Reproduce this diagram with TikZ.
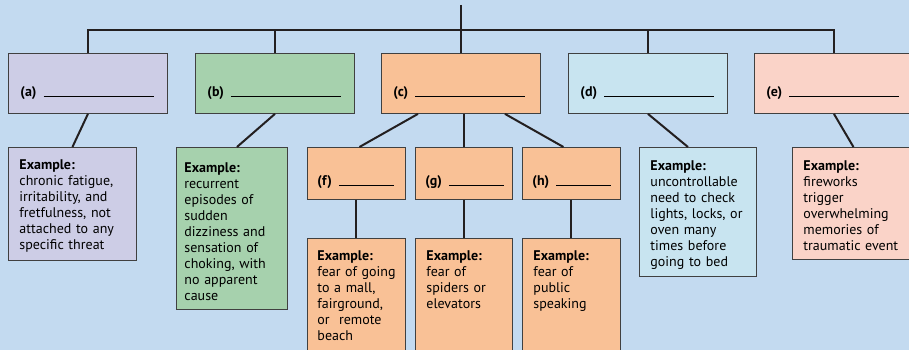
\documentclass[tikz,border=0pt]{standalone}
\usepackage{fontspec}
\setmainfont{PT Sans}
\usepackage{xcolor}
\usepackage{tikz}
\definecolor{bgblue}{HTML}{C3DAF0}
\definecolor{lavender}{HTML}{CDCDE6}
\definecolor{sage}{HTML}{A6D1AD}
\definecolor{peach}{HTML}{F9C196}
\definecolor{iceblue}{HTML}{C8E4F0}
\definecolor{blush}{HTML}{FAD3C8}
\definecolor{edgegray}{HTML}{404040}
\definecolor{linkblack}{HTML}{231F20}
\newcommand{\fillin}[2]{\textbf{#1}\nobreak\hspace{7pt}\nobreak\rule{#2}{0.9pt}}

\begin{document}
\begin{tikzpicture}[
  x=1pt, y=-1pt,
  box/.style={draw=edgegray, line width=0.9pt, anchor=north west, align=left,
    inner ysep=0pt, font=\fontsize{14}{16}\selectfont},
  catbox/.style={box, text width=135pt, inner xsep=12pt, text height=43pt, text depth=17pt},
  subbox/.style={box, text width=78pt, inner xsep=10pt, text height=38pt, text depth=14pt},
  exbox/.style={box, inner xsep=11pt, text height=22pt},
  link/.style={linkblack, line width=2pt},
  trunk/.style={linkblack, line width=2.5pt}
]
  \useasboundingbox (0,0) rectangle (909,350);
  \clip (0,0) rectangle (909,350);
  \fill[bgblue] (0,0) rectangle (909,350);

  % Top row
  \node[catbox, fill=lavender] (a) at (8,53) {\fillin{(a)}{110pt}};
  \node[catbox, fill=sage] (b) at (195,53) {\fillin{(b)}{110pt}};
  \node[catbox, fill=peach] (c) at (381,53) {\fillin{(c)}{110pt}};
  \node[catbox, fill=iceblue] (d) at (568,53) {\fillin{(d)}{110pt}};
  \node[catbox, fill=blush] (e) at (754,53) {\fillin{(e)}{110pt}};

  % Sub-types of (c)
  \node[subbox, fill=peach] (f) at (307,147) {\fillin{(f)}{55pt}};
  \node[subbox, fill=peach, text width=77pt] (g) at (415,147) {\fillin{(g)}{55pt}};
  \node[subbox, fill=peach] (h) at (522,147) {\fillin{(h)}{55pt}};

  % Examples
  \node[exbox, fill=lavender, text width=106pt, text depth=91pt] (exa) at (8,147)
    {\textbf{Example:}\\chronic fatigue,\\irritability, and\\fretfulness, not\\attached to any\\specific threat};
  \node[exbox, fill=sage, inner xsep=8pt, text width=95pt, text height=25pt, text depth=137pt] (exb) at (176,147)
    {\textbf{Example:}\\recurrent\\episodes of\\sudden\\dizziness and\\sensation of\\choking, with\\no apparent\\cause};
  \node[exbox, fill=peach, inner xsep=10pt, text width=78pt, text depth=150pt] (exf) at (307,238)
    {\textbf{Example:}\\\mbox{fear of going}\\to a mall,\\fairground,\\or~ remote\\beach};
  \node[exbox, fill=peach, text width=75pt, text depth=150pt] (exg) at (415,238)
    {\textbf{Example:}\\fear of\\spiders or\\elevators};
  \node[exbox, fill=peach, text width=76pt, text depth=150pt] (exh) at (522,238)
    {\textbf{Example:}\\fear of\\public\\speaking};
  \node[exbox, fill=iceblue, text width=95pt, text height=23pt, text depth=106pt] (exd) at (639,147)
    {\textbf{Example:}\\uncontrollable\\need to check\\lights, locks, or\\oven many\\times before\\going to bed};
  \node[exbox, fill=blush, text width=106pt, text height=23pt, text depth=89pt] (exe) at (792,147)
    {\textbf{Example:}\\fireworks\\trigger\\overwhelming\\memories of\\traumatic event};

  % Tree above the top row
  \coordinate (root) at (461,5);
  \coordinate (hub) at (461,30);
  \draw[trunk] (root) -- (root |- c.north);
  \draw[trunk] (a.north) |- (hub) -| (e.north);
  \draw[trunk] (b.north) -- (b.north |- hub);
  \draw[trunk] (d.north) -- (d.north |- hub);

  % Links down to the examples
  \draw[link] (a.south) -- (exa.north);
  \draw[link] (b.south) -- ([xshift=5pt]exb.north);
  \draw[link] ([xshift=-43pt]c.south) -- ([xshift=3pt]f.north);
  \draw[link] (c.south -| g.north) -- (g.north);
  \draw[link] ([xshift=44pt]c.south) -- ([xshift=-8pt]h.north);
  \draw[link] (f.south) -- (f.south |- exf.north);
  \draw[link] (g.south) -- (g.south |- exg.north);
  \draw[link] (h.south) -- (h.south |- exh.north);
  \draw[link] (d.south) -- ([xshift=-10pt]exd.north);
  \draw[link] (e.south) -- ([xshift=-3pt]exe.north);
\end{tikzpicture}
\end{document}
